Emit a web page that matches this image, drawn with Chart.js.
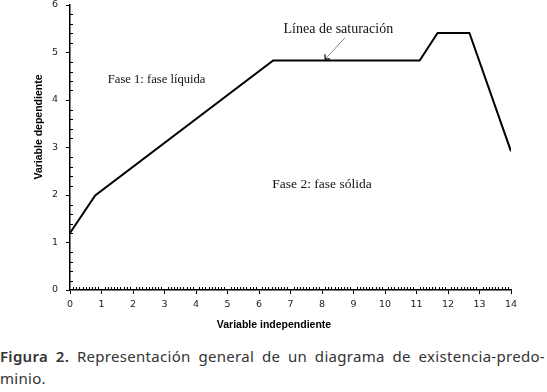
<!DOCTYPE html>
<html>
<head>
<meta charset="utf-8">
<script src="https://cdn.jsdelivr.net/npm/chart.js@4.4.1/dist/chart.umd.min.js"></script>
<style>
  html, body { margin: 0; padding: 0; background: #fff; }
  body { width: 547px; height: 392px; overflow: hidden; }
  #wrap { width: 547px; height: 335px; }
  #caption {
    font-family: "Noto Sans", "Open Sans", sans-serif;
    font-size: 15px; line-height: 22px; color: #333;
    width: 545px; margin-top: 10px; letter-spacing: 0.3px;
    white-space: nowrap;
  }
  #caption .l1 { display: block; text-align: justify; text-align-last: justify; white-space: normal; }
  #caption b { font-weight: 600; }
</style>
</head>
<body>
<div id="wrap"><canvas id="c" width="547" height="335"></canvas></div>
<div id="caption"><span class="l1"><b>Figura 2.</b> Representación general de un diagrama de existencia-predo-</span>minio.</div>
<script>
// ---- data ----
const xValues = [0, 0.8, 6.45, 11.1, 11.67, 12.68, 14];
const yValues = [1.2, 1.99, 4.83, 4.83, 5.41, 5.41, 2.92];
const xTickLabels = ['0','1','2','3','4','5','6','7','8','9','10','11','12','13','14'];
const yTickLabels = ['0','1','2','3','4','5','6'];
const xAxisTitle = 'Variable independiente';
const yAxisTitle = 'Variable dependiente';
const annotationTexts = ['Fase 1: fase líquida', 'Fase 2: fase sólida', 'Línea de saturación'];

// ---- layout / style (not data) ----
const annotationPos = [
  { x: 2.75, y: 4.43, size: 12.6 },
  { x: 8.0,  y: 2.22, size: 13.5 },
  { x: 8.52, y: 5.48, size: 14 }
];
const arrowFrom = { x: 8.73, y: 5.31 };
const arrowTo   = { x: 8.1,  y: 4.86 };

const points = xValues.map((x, i) => ({ x, y: yValues[i] }));

const decorPlugin = {
  id: 'decor',
  afterDraw(chart) {
    const ctx = chart.ctx;
    const xs = chart.scales.x, ys = chart.scales.y;
    const x0 = xs.getPixelForValue(0), y0 = ys.getPixelForValue(0);
    ctx.save();
    // minor ticks (inward)
    ctx.strokeStyle = '#000';
    ctx.lineWidth = 1;
    ctx.beginPath();
    for (let i = 1; i < 140; i++) {
      if (i % 10 === 0) continue;
      const px = Math.round(xs.getPixelForValue(i / 10)) + 0.5;
      ctx.moveTo(px, y0);
      ctx.lineTo(px, y0 - 3);
    }
    for (let i = 1; i < 30; i++) {
      if (i % 5 === 0) continue;
      const py = Math.round(ys.getPixelForValue(i / 5)) + 0.5;
      ctx.moveTo(x0, py);
      ctx.lineTo(x0 + 3, py);
    }
    ctx.stroke();

    // annotation texts
    ctx.fillStyle = '#111';
    ctx.textAlign = 'center';
    ctx.textBaseline = 'middle';
    annotationTexts.forEach((t, i) => {
      ctx.font = annotationPos[i].size + 'px "Liberation Serif", "DejaVu Serif", serif';
      ctx.fillText(t, xs.getPixelForValue(annotationPos[i].x), ys.getPixelForValue(annotationPos[i].y));
    });

    // arrow to the saturation line
    const ax = xs.getPixelForValue(arrowFrom.x), ay = ys.getPixelForValue(arrowFrom.y);
    const bx = xs.getPixelForValue(arrowTo.x), by = ys.getPixelForValue(arrowTo.y);
    ctx.strokeStyle = '#666';
    ctx.lineWidth = 0.8;
    ctx.beginPath();
    ctx.moveTo(ax, ay); ctx.lineTo(bx, by); ctx.stroke();
    const ang = Math.atan2(ay - by, ax - bx);
    ctx.strokeStyle = '#000';
    ctx.lineWidth = 1.2;
    ctx.beginPath();
    ctx.moveTo(bx + 5 * Math.cos(ang + Math.PI / 4), by + 5 * Math.sin(ang + Math.PI / 4));
    ctx.lineTo(bx, by);
    ctx.lineTo(bx + 5 * Math.cos(ang - Math.PI / 4), by + 5 * Math.sin(ang - Math.PI / 4));
    ctx.stroke();

    // axis titles
    ctx.fillStyle = '#000';
    ctx.font = 'bold 10.5px "Liberation Sans", Arial, sans-serif';
    ctx.textAlign = 'center';
    ctx.textBaseline = 'middle';
    ctx.fillText(xAxisTitle, 274, 325);
    ctx.translate(39, 127);
    ctx.rotate(-Math.PI / 2);
    ctx.fillText(yAxisTitle, 0, 0);
    ctx.restore();
  }
};

new Chart(document.getElementById('c'), {
  type: 'scatter',
  data: {
    datasets: [{
      data: points,
      showLine: true,
      borderColor: '#000',
      borderWidth: 2,
      pointRadius: 0,
      tension: 0,
      fill: false
    }]
  },
  options: {
    responsive: false,
    animation: false,
    events: [],
    layout: { padding: { top: 5, right: 36, left: 0, bottom: 0 } },
    plugins: { legend: { display: false }, tooltip: { enabled: false } },
    scales: {
      x: {
        type: 'linear', min: 0, max: 14,
        afterFit: s => { s.height = 45; s.paddingLeft = 0; s.paddingRight = 0; },
        afterBuildTicks: s => { s.ticks = xTickLabels.map(v => ({ value: Number(v) })); },
        ticks: {
          callback: (v, i) => xTickLabels[i],
          color: '#222', padding: 5, maxRotation: 0, autoSkip: false,
          font: { family: '"DejaVu Sans", Verdana, sans-serif', size: 9.5 }
        },
        grid: { drawOnChartArea: false, drawTicks: true, tickLength: 4, color: '#000', lineWidth: 1 },
        border: { display: true, color: '#000', width: 1.5 }
      },
      y: {
        type: 'linear', min: 0, max: 6,
        afterFit: s => { s.width = 70; s.paddingTop = 0; s.paddingBottom = 0; },
        afterBuildTicks: s => { s.ticks = yTickLabels.map(v => ({ value: Number(v) })); },
        ticks: {
          callback: (v, i) => yTickLabels[i],
          color: '#222', padding: 8, autoSkip: false,
          font: { family: '"DejaVu Sans", Verdana, sans-serif', size: 9.5 }
        },
        grid: { drawOnChartArea: false, drawTicks: true, tickLength: 4, color: '#000', lineWidth: 1 },
        border: { display: true, color: '#000', width: 1.5 }
      }
    }
  },
  plugins: [decorPlugin]
});
</script>
</body>
</html>
